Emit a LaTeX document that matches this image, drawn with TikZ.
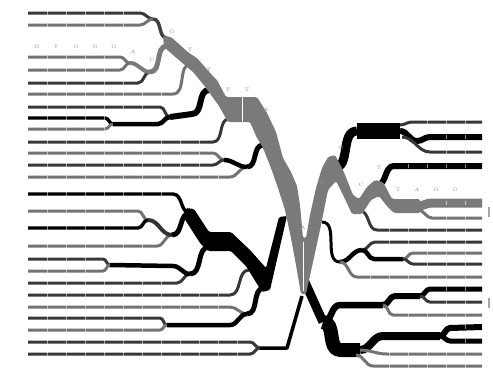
\documentclass[tikz,border=0pt]{standalone}
\usepackage{tikz}
\colorlet{bandgray}{black!52}

\begin{document}
\begin{tikzpicture}[x=1pt, y=-1pt, line join=round,
  darkrow/.style={draw=black!78, line width=3pt},
  grayrow/.style={draw=black!55, line width=3pt},
  blackrow/.style={draw=black, line width=3.4pt},
  link/.style={draw=black, line width=#1},
  glink/.style={draw=bandgray, line width=#1},
  tick/.style={draw=white, opacity=0.55, line width=0.5pt},
  letter/.style={text=black!45, font=\fontsize{5}{5}\selectfont, inner sep=0pt},
  every to/.style={out=0, in=180}]
\useasboundingbox (0,0) rectangle (493,370);

% merge points, left half
\coordinate (m1) at (153,19);  \coordinate (g0a) at (167,38);
\coordinate (m2) at (130,63);  \coordinate (m3) at (150,72);
\coordinate (g0b) at (167,46); \coordinate (g1) at (191,64);
\coordinate (m4) at (113,124); \coordinate (m4b) at (158,124);
\coordinate (m5) at (170,117); \coordinate (m5b) at (192,114);
\coordinate (g2) at (209,90);  \coordinate (g3) at (229,119);
\coordinate (m6) at (224,160); \coordinate (m7) at (247,167);
\coordinate (g4) at (263,145); \coordinate (m8) at (190,213);
\coordinate (m9) at (148,220); \coordinate (m10) at (172,235);
\coordinate (m11) at (110,265); \coordinate (m11b) at (173,266);
\coordinate (m12) at (190,274); \coordinate (b1) at (209,247);
\coordinate (b2) at (249,270); \coordinate (m13) at (247,314);
\coordinate (m14) at (167,325); \coordinate (m14b) at (230,325);
\coordinate (b3) at (264,288); \coordinate (m15) at (260,348);
\coordinate (m15b) at (287,348); \coordinate (c0) at (302,296);

% merge points, right half
\coordinate (c1) at (304,280); \coordinate (a1) at (334,168);
\coordinate (k1) at (357,131); \coordinate (s1) at (400,131);
\coordinate (s1a) at (400,125); \coordinate (s1b) at (402,137);
\coordinate (a2) at (377,185); \coordinate (s9) at (418,206);
\coordinate (s9b) at (418,210); \coordinate (a3) at (360,211);
\coordinate (a4) at (322,222); \coordinate (s2) at (340,262);
\coordinate (s3) at (362,250); \coordinate (s4) at (403,259);
\coordinate (s7) at (323,322); \coordinate (s5) at (383,305);
\coordinate (s6) at (420,296); \coordinate (s10) at (360,350);
\coordinate (s10b) at (356,355); \coordinate (s8) at (440,336);
\foreach \y [count=\i] in {122,137,152,166,203,218,230,242,253,264,277,289,302,315,327,341,354,366}
  \coordinate (r\i) at (482,\y);

% sequences on the left
\foreach \y/\e/\s/\t in {13/140/darkrow/m1, 25/140/grayrow/m1, 57/120/grayrow/m2,
    70/120/grayrow/m2, 83/138/darkrow/m3, 94/173/grayrow/g1, 107/160/darkrow/m5,
    118/105/blackrow/m4, 129/105/grayrow/m4, 142/213/darkrow/g3, 153/213/grayrow/m6,
    165/213/darkrow/m6, 177/230/grayrow/m7, 194/173/blackrow/m8, 211/138/grayrow/m9,
    228/138/blackrow/m9, 246/157/grayrow/m10, 259/103/darkrow/m11, 271/103/grayrow/m11,
    283/177/darkrow/m12, 295/230/darkrow/b2, 307/230/grayrow/m13, 318/160/darkrow/m14,
    330/160/grayrow/m14, 342/250/darkrow/m15, 354/250/darkrow/m15} {
  \draw[style=\s] (28,\y) -- (\e,\y) to (\t);
  \foreach \x in {47,66,...,256} {
    \ifnum\x<\e \draw[tick] (\x,\y-1.6) -- (\x,\y+1.6); \fi
  }
}

\draw[link=3.5pt, draw=black!75] (m1) to (g0a);
\draw[glink=4pt] (m2) to (m3);
\draw[glink=5pt] (m3) to (g0b);
\draw[link=4.5pt] (m4) -- (m4b) to (m5);
\draw[link=6pt] (m5) -- (m5b) to (g2);
\draw[link=4.5pt] (m6) to (m7);
\draw[link=5pt] (m7) to (g4);
\draw[link=4pt, draw=black!80] (m9) to (m10);
\draw[link=5pt] (m10) to (m8);
\draw[link=4.5pt] (m11) -- (m11b) to (m12);
\draw[link=5pt] (m12) to (b1);
\draw[link=4.5pt] (m14) -- (m14b) to (m13);
\draw[link=5pt] (m13) to (b3);
\draw[link=3.5pt] (m15) -- (m15b) -- (c0);

% sequences on the right
\draw[link=9pt] (c1) -- (s7);
\draw[link=9pt] (a1) to (k1);
\draw[link=16pt] (k1) -- (s1);
\draw[darkrow] (s1a) to (412,122) -- (r1);
\draw[link=6pt] (s1) to (417,141) to (430,137) -- (r2);
\draw[darkrow] (s1b) to (430,152) -- (r3);
\draw[link=6pt] (a2) to (394,166) -- (r4);
\draw[glink=9pt] (s9) to (432,203) -- (r5);
\draw[grayrow] (s9b) to (432,218) -- (r6);
\draw[darkrow] (a3) to (377,230) -- (r7);
\draw[link=3pt] (a4) to (s2);
\draw[link=4.5pt] (s2) to (s3);
\draw[darkrow] (s3) to (375,242) -- (r8);
\draw[link=4.5pt] (s3) to (374,259) -- (s4);
\draw[grayrow] (s4) to (413,253) -- (r9);
\draw[darkrow] (s4) to (413,264) -- (r10);
\draw[grayrow] (s2) to (357,277) -- (r11);
\draw[link=6.5pt] (s7) to (340,305) -- (s5);
\draw[link=6pt] (s5) to (395,296) -- (s6);
\draw[link=5pt] (s6) to (430,289) -- (r12);
\draw[darkrow] (s6) to (430,302) -- (r13);
\draw[grayrow] (s5) to (393,315) -- (r14);
\draw[link=14pt] (s7) to (340,350) -- (s10);
\draw[link=8pt] (s10) to (383,336) -- (s8);
\draw[link=6pt] (s8) to (450,328) -- (r15);
\draw[link=5pt] (s8) to (450,341) -- (r16);
\draw[grayrow] (s10) to (387,354) -- (r17);
\draw[grayrow] (s10b) to (373,366) -- (r18);
\foreach \y/\s in {122/412, 137/430, 152/430, 166/394, 203/432, 218/432, 230/377, 242/375,
    253/413, 264/413, 277/357, 289/430, 302/430, 315/393, 327/450, 341/450, 354/387, 366/373}
  \foreach \x in {332,351,...,470} {
    \ifnum\x>\s \draw[tick] (\x,\y-1.6) -- (\x,\y+1.6); \fi
  };

% black bundle, lower left
\fill[black, rounded corners=1.5pt] (186,208) -- (194,209) -- (209,232) -- (231,232)
  -- (250,250) -- (266,268) -- (279,217) -- (287,216) -- (270,290) -- (262,292)
  -- (246,266) -- (231,251) -- (208,251) -- (200,243) -- (184,218) -- cycle;

% gray bundle through the centre
\fill[bandgray, rounded corners=1.5pt] (163,36) -- (171,37) -- (189,53) -- (197,58)
  -- (211,74) -- (217,80) -- (226,97) -- (257,97) -- (267,113) -- (276,132)
  -- (283,158) -- (291,172) -- (297,186) -- (300,205) -- (303,238) -- (306,238)
  -- (310,215) -- (316,188) -- (322,168) -- (328,157) -- (335,155) -- (343,170)
  -- (353,195) -- (359,199) -- (367,187) -- (375,180) -- (383,182) -- (392,199)
  -- (420,199) -- (420,213) -- (394,213) -- (386,205) -- (379,196) -- (371,200)
  -- (362,214) -- (352,214) -- (344,197) -- (336,181) -- (328,190) -- (320,230)
  -- (313,262) -- (306,294) -- (301,294) -- (296,265) -- (291,238) -- (285,210)
  -- (278,188) -- (271,168) -- (263,148) -- (256,136) -- (250,122) -- (228,122)
  -- (219,106) -- (211,95) -- (203,84) -- (193,72) -- (186,66) -- (173,55)
  -- (164,47) -- cycle;
\draw[white, line width=0.6pt] (242,97) -- (242,122);
\draw[white, line width=0.6pt] (303.5,242) -- (303.5,291);

% letters
\foreach \x/\y/\c [count=\i] in {37/47/G, 56/47/T, 76/47/G, 95/47/G, 114/47/G, 133/52/A,
    152/60/C, 172/32/G, 190/50/T, 209/70/T, 228/90/T, 247/90/T, 266/110/A, 285/170/T,
    303/228/A, 322/183/C, 341/148/G, 361/185/C, 379/168/T, 398/190/T, 417/190/A,
    436/190/G, 455/190/G}
  \node[letter] (n\i) at (\x,\y) {\c};

\draw[black!35, line width=1.2pt] (489,207) -- (489,217);
\draw[black!35, line width=1.2pt] (489,298) -- (489,308);
\end{tikzpicture}
\end{document}
